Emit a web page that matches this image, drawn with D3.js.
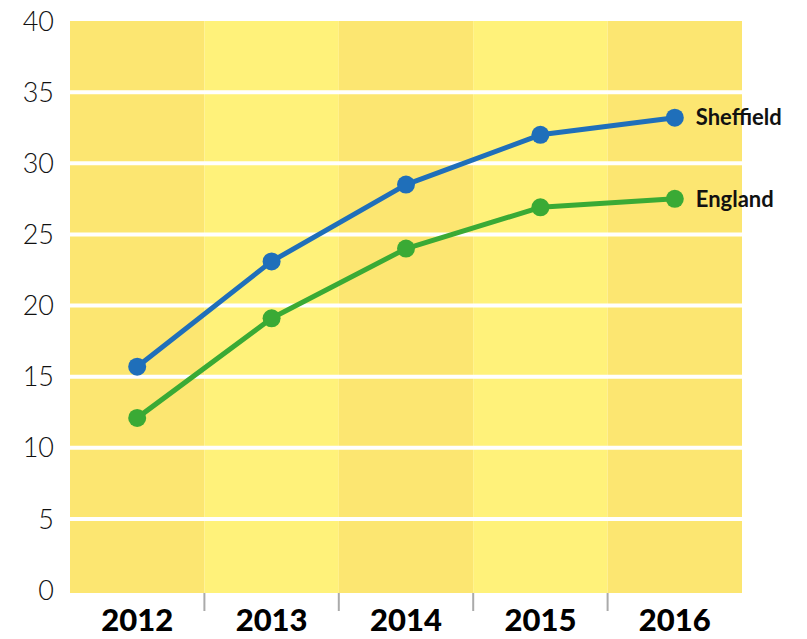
<!DOCTYPE html>
<html>
<head>
<meta charset="utf-8">
<script src="https://cdn.jsdelivr.net/npm/d3@7"></script>
<style>
  body { margin: 0; background: #fff; }
  svg { display: block; }
</style>
</head>
<body>
<div id="chart"></div>
<script>
// data
var years = ["2012", "2013", "2014", "2015", "2016"];
var sheffield = [15.7, 23.1, 28.5, 32.0, 33.2];
var england = [12.1, 19.1, 24.0, 26.9, 27.5];
var yTicks = [0, 5, 10, 15, 20, 25, 30, 35, 40];

var width = 807, height = 639;

var series = [
    { name: "Sheffield", values: sheffield, color: "#1f6fba" },
    { name: "England", values: england, color: "#3aaa35" }
];

var x = d3.scaleBand()
    .domain(years)
    .range([70, 742])
    .padding(0);

var y = d3.scaleLinear()
    .domain([0, 40])
    .range([590, 21]);

var svg = d3.select("#chart").append("svg")
    .attr("width", width)
    .attr("height", height);

// alternating column backgrounds
svg.append("g").selectAll("rect")
    .data(years)
    .enter().append("rect")
        .attr("x", d => x(d))
        .attr("y", y(40))
        .attr("width", x.bandwidth())
        .attr("height", y(0) - y(40) + 3)
        .attr("fill", (d, i) => i % 2 === 0 ? "#fce671" : "#fff27a");

// white gridlines
svg.append("g").selectAll("line")
    .data(yTicks.filter(t => t > 0 && t < 40))
    .enter().append("line")
        .attr("x1", 70)
        .attr("x2", 742)
        .attr("y1", d => y(d))
        .attr("y2", d => y(d))
        .attr("stroke", "#fff")
        .attr("stroke-width", 4);

// y labels
svg.append("g").selectAll("text")
    .data(yTicks)
    .enter().append("text")
        .attr("x", 54)
        .attr("y", d => y(d))
        .attr("dy", "0.36em")
        .attr("text-anchor", "end")
        .style("font-family", "Lato, 'Open Sans', sans-serif")
        .style("font-weight", 300)
        .style("font-size", "27px")
        .attr("fill", "#111")
        .text(d => d);

// x axis: small grey separators and bold year labels
var xAxis = d3.axisBottom(x).tickSize(0).tickPadding(0);
var gx = svg.append("g")
    .attr("transform", "translate(0," + (y(0) + 3) + ")")
    .call(xAxis);
gx.select(".domain").remove();
gx.selectAll(".tick text")
    .attr("y", 38)
    .attr("dy", 0)
    .style("font-family", "Lato, sans-serif")
    .style("font-weight", 900)
    .style("font-size", "31px")
    .attr("fill", "#000");

svg.append("g").selectAll("line")
    .data(years.slice(1))
    .enter().append("line")
        .attr("x1", d => x(d))
        .attr("x2", d => x(d))
        .attr("y1", y(0) + 3)
        .attr("y2", y(0) + 21)
        .attr("stroke", "#aaa")
        .attr("stroke-width", 2);

// lines and dots
var line = d3.line()
    .x((d, i) => x(years[i]) + x.bandwidth() / 2)
    .y(d => y(d));

var sg = svg.selectAll(".series")
    .data(series)
    .enter().append("g")
        .attr("class", "series");

sg.append("path")
    .attr("d", d => line(d.values))
    .attr("fill", "none")
    .attr("stroke", d => d.color)
    .attr("stroke-width", 5)
    .attr("stroke-linejoin", "round");

sg.selectAll("circle")
    .data(d => d.values.map(v => ({ v: v, color: d.color })))
    .enter().append("circle")
        .attr("cx", (d, i) => x(years[i]) + x.bandwidth() / 2)
        .attr("cy", d => y(d.v))
        .attr("r", 9)
        .attr("fill", d => d.color);

sg.append("text")
    .attr("x", x(years[4]) + x.bandwidth() / 2 + 21)
    .attr("y", d => y(d.values[4]))
    .attr("dy", "0.35em")
    .style("font-family", "Lato, sans-serif")
    .style("font-weight", 700)
    .style("font-size", "22px")
    .attr("fill", "#111")
    .text(d => d.name);
</script>
</body>
</html>
